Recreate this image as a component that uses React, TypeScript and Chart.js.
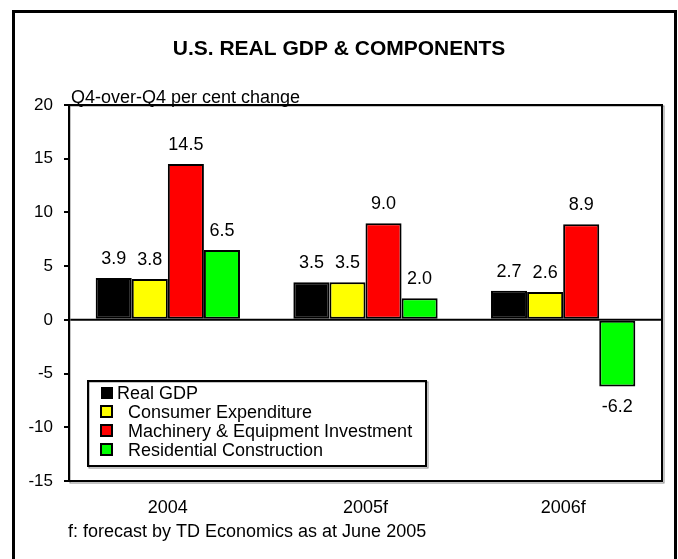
import React, { useEffect, useRef } from "react";
import { Chart, registerables } from "chart.js";

Chart.register(...registerables);

const categories = ["2004", "2005f", "2006f"];
const seriesNames = [
  "Real GDP",
  "Consumer Expenditure",
  "Machinery & Equipment Investment",
  "Residential Construction",
];
const realGdp = [3.9, 3.5, 2.7];
const consumerExp = [3.8, 3.5, 2.6];
const machinery = [14.5, 9.0, 8.9];
const residential = [6.5, 2.0, -6.2];
const seriesColors = ["#000000", "#FFFF00", "#FF0000", "#00FF00"];
const yMin = -15;
const yMax = 20;
const yStep = 5;
const titleText = "U.S. REAL GDP & COMPONENTS";
const yCaption = "Q4-over-Q4 per cent change";
const footnote = "f: forecast by TD Economics as at June 2005";

const FONT = '"Liberation Sans", Arial, Helvetica, sans-serif';

const decorPlugin = {
  id: "decor",
  beforeDatasetsDraw(chart: any) {
    const { ctx, chartArea, scales } = chart;
    const y0 = scales.y.getPixelForValue(0);
    ctx.save();
    ctx.strokeStyle = "#000";
    ctx.lineWidth = 2;
    ctx.beginPath();
    ctx.moveTo(chartArea.left, y0);
    ctx.lineTo(chartArea.right, y0);
    ctx.stroke();
    // plot box
    ctx.strokeStyle = "#888";
    ctx.lineWidth = 1;
    ctx.strokeRect(chartArea.left + 1, chartArea.top + 1, chartArea.right - chartArea.left + 1, chartArea.bottom - chartArea.top + 1);
    ctx.strokeStyle = "#000";
    ctx.lineWidth = 2;
    ctx.strokeRect(chartArea.left, chartArea.top, chartArea.right - chartArea.left, chartArea.bottom - chartArea.top);
    ctx.restore();
  },
  afterDraw(chart: any) {
    const { ctx, chartArea } = chart;
    ctx.save();
    // outer frame
    ctx.strokeStyle = "#000";
    ctx.lineWidth = 3;
    ctx.strokeRect(13.5, 11.5, 662, 600);
    // title
    ctx.fillStyle = "#000";
    ctx.font = `bold 21px ${FONT}`;
    ctx.textAlign = "center";
    ctx.textBaseline = "alphabetic";
    ctx.fillText(titleText, 339, 55);
    // y caption
    ctx.font = `18px ${FONT}`;
    ctx.textAlign = "left";
    ctx.fillText(yCaption, chartArea.left + 2, chartArea.top - 2);
    // footnote
    ctx.fillText(footnote, 68, 537);
    // data labels
    ctx.textAlign = "center";
    chart.data.datasets.forEach((ds: any, di: number) => {
      const meta = chart.getDatasetMeta(di);
      meta.data.forEach((el: any, i: number) => {
        const v = ds.data[i];
        const txt = v.toFixed(1);
        if (v >= 0) {
          ctx.textBaseline = "alphabetic";
          ctx.fillText(txt, el.x, el.y - 14);
        } else {
          ctx.textBaseline = "top";
          ctx.fillText(txt, el.x, el.y + 12);
        }
      });
    });
    // legend
    const lx = 88, ly = 381, lw = 338, lh = 85;
    ctx.fillStyle = "#fff";
    ctx.fillRect(lx, ly, lw, lh);
    ctx.strokeStyle = "#888";
    ctx.lineWidth = 1;
    ctx.strokeRect(lx + 1, ly + 1, lw + 1, lh + 1);
    ctx.strokeStyle = "#000";
    ctx.lineWidth = 2;
    ctx.strokeRect(lx, ly, lw, lh);
    const rows = [393, 412, 431, 450];
    ctx.textAlign = "left";
    ctx.textBaseline = "middle";
    ctx.font = `18px ${FONT}`;
    seriesNames.forEach((name, i) => {
      const cy = rows[i];
      if (i === 0) {
        ctx.fillStyle = seriesColors[i];
        ctx.fillRect(101, cy - 6, 12, 12);
      } else {
        ctx.fillStyle = seriesColors[i];
        ctx.fillRect(101, cy - 6, 11, 11);
        ctx.strokeStyle = "#000";
        ctx.lineWidth = 2;
        ctx.strokeRect(101, cy - 6, 11, 11);
      }
      ctx.fillStyle = "#000";
      ctx.fillText(name, i === 0 ? 117 : 128, cy + 1);
    });
    ctx.restore();
  },
};

export default function App() {
  const ref = useRef<HTMLCanvasElement | null>(null);
  useEffect(() => {
    document.body.style.margin = "0";
    const canvas = ref.current;
    if (!canvas) return;
    const seriesData = [realGdp, consumerExp, machinery, residential];
    const chart = new Chart(canvas, {
      type: "bar",
      data: {
        labels: categories,
        datasets: seriesNames.map((name, i) => ({
          label: name,
          data: seriesData[i],
          backgroundColor: seriesColors[i],
          borderColor: "#000",
          borderWidth: 2,
          borderSkipped: false,
          barPercentage: 1.0,
          categoryPercentage: 0.73,
        })),
      },
      options: {
        responsive: false,
        animation: false,
        devicePixelRatio: 1,
        layout: { padding: { left: 0, top: 105, right: 16, bottom: 0 } },
        plugins: {
          legend: { display: false },
          title: { display: false },
          tooltip: { enabled: false },
        },
        scales: {
          x: {
            grid: { display: false, drawTicks: false, tickLength: 0 },
            border: { display: false },
            ticks: {
              color: "#000",
              font: { family: FONT, size: 18 },
              padding: 16,
            },
            afterFit(scale: any) {
              scale.height = 78;
            },
          },
          y: {
            min: yMin,
            max: yMax,
            ticks: {
              stepSize: yStep,
              color: "#000",
              font: { family: FONT, size: 17 },
              padding: 11,
            },
            grid: {
              drawOnChartArea: false,
              drawTicks: true,
              tickLength: 5,
              color: "#000",
              lineWidth: 2,
            },
            border: { display: true, color: "#000", width: 2 },
            afterFit(scale: any) {
              scale.width = 69;
            },
          },
        },
      },
      plugins: [decorPlugin],
    });
    return () => chart.destroy();
  }, []);
  return (
    <div style={{ width: 678, height: 559, position: "relative", background: "#fff" }}>
      <canvas ref={ref} width={678} height={559} style={{ display: "block" }} />
    </div>
  );
}
